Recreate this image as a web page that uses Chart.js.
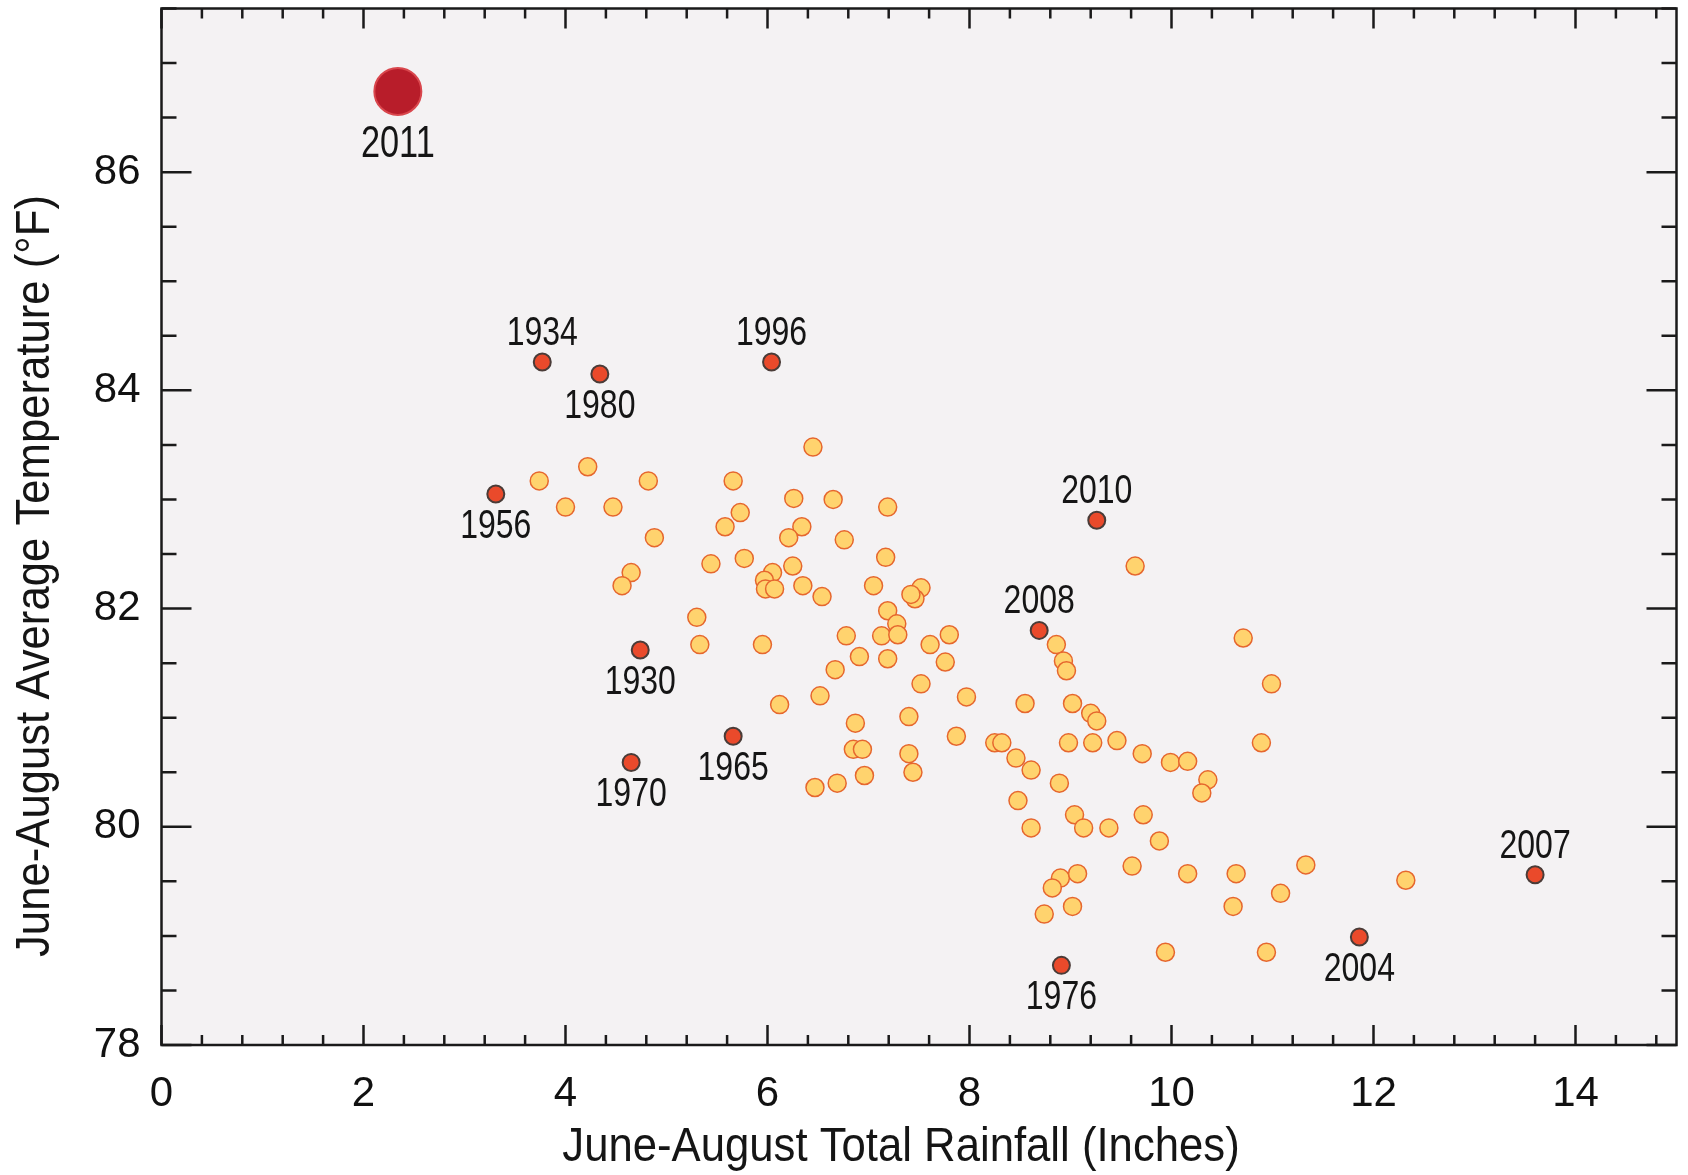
<!DOCTYPE html>
<html>
<head>
<meta charset="utf-8">
<script src="https://cdn.jsdelivr.net/npm/chart.js@4.4.1/dist/chart.umd.min.js"></script>
<style>
  html, body { margin: 0; padding: 0; background: #ffffff; }
  #wrap { width: 1688px; height: 1175px; }
</style>
</head>
<body>
<div id="wrap"><canvas id="mycanvas" width="1688" height="1175"></canvas></div>
<script>
// June-August rainfall (inches) and average temperature (F), all other years
var rainfall = [3.74, 4.22, 4.00, 4.47, 4.82, 4.88, 4.65, 4.56, 5.66, 6.45,
  6.26, 6.65, 7.19, 5.73, 5.58, 6.34, 6.21, 6.76, 7.17, 5.44,
  5.77, 6.25, 6.05, 5.97, 5.98, 6.07, 6.35, 6.54, 7.05, 7.19,
  7.28, 7.13, 7.29, 6.78, 6.91, 7.19, 6.67, 5.30, 5.33, 5.95,
  6.12, 6.52, 6.87, 6.85, 6.94, 6.96, 6.47, 6.69, 9.64, 7.52,
  7.46, 7.42, 7.61, 7.80, 7.76, 7.52, 7.97, 7.40, 7.40, 7.44,
  7.87, 8.86, 8.93, 8.96, 10.71, 10.99, 8.55, 9.02, 9.20, 9.26,
  8.25, 8.32, 8.98, 9.22, 9.46, 9.71, 9.99, 10.16, 10.89, 8.46,
  8.61, 8.89, 10.36, 10.30, 8.48, 8.61, 9.04, 9.13, 9.38, 9.72,
  9.88, 9.61, 10.16, 10.64, 11.33, 11.08, 10.61, 8.90, 8.82, 9.07,
  9.02, 8.74, 9.94, 10.94, 12.32];
var temperature = [83.17, 83.30, 82.93, 82.93, 83.17, 82.65, 82.33, 82.21, 83.17, 83.48,
  83.01, 83.00, 82.93, 82.88, 82.75, 82.75, 82.65, 82.63, 82.47, 82.41,
  82.46, 82.39, 82.33, 82.26, 82.18, 82.18, 82.21, 82.11, 82.21, 81.98,
  81.86, 81.75, 81.76, 81.75, 81.56, 81.54, 81.44, 81.92, 81.67, 81.67,
  81.12, 81.20, 80.95, 80.71, 80.71, 80.47, 80.36, 80.40, 82.39, 82.19,
  82.09, 82.13, 81.67, 81.76, 81.51, 81.31, 81.19, 81.01, 80.67, 80.50,
  80.83, 81.67, 81.52, 81.43, 81.73, 81.31, 81.13, 81.13, 81.04, 80.97,
  80.77, 80.77, 80.77, 80.77, 80.79, 80.67, 80.59, 80.60, 80.77, 80.63,
  80.52, 80.40, 80.43, 80.31, 80.24, 79.99, 80.11, 79.99, 79.99, 80.11,
  79.87, 79.64, 79.57, 79.57, 79.65, 79.39, 79.27, 79.53, 79.44, 79.57,
  79.27, 79.20, 78.85, 78.85, 79.51];

// labelled years
var markYears = ['1934', '1980', '1996', '1956', '2010', '2008', '1930', '1965', '1970', '2007', '2004', '1976'];
var markRain  = [3.77, 4.34, 6.04, 3.31, 9.26, 8.69, 4.74, 5.66, 4.65, 13.60, 11.86, 8.91];
var markTemp  = [84.26, 84.15, 84.26, 83.05, 82.81, 81.80, 81.62, 80.83, 80.59, 79.56, 78.99, 78.73];

// the record year
var hotYear = ['2011'];
var hotRain = [2.34];
var hotTemp = [86.74];

var xTickValues = [0, 2, 4, 6, 8, 10, 12, 14];
var yTickValues = [78, 80, 82, 84, 86];

var labelAbove = { '1934': true, '1996': true, '2010': true, '2008': true, '2007': true };

function toPoints(xs, ys) {
  var out = [];
  for (var i in xs) {
    out.push({ x: xs[i], y: ys[i] });
  }
  return out;
}

var tickFont = '"Liberation Sans", Arial, sans-serif';

// condensed look: draw Liberation Sans squeezed horizontally
function narrowText(ctx, text, x, y, size, squeeze) {
  ctx.save();
  ctx.translate(x, y);
  ctx.scale(squeeze, 1);
  ctx.font = size + 'px ' + tickFont;
  ctx.fillText(text, 0, 0);
  ctx.restore();
}

var framePlugin = {
  id: 'frame',
  beforeDraw: function(chart) {
    var a = chart.chartArea, ctx = chart.ctx;
    ctx.save();
    ctx.fillStyle = '#f4f2f3';
    ctx.fillRect(a.left, a.top, a.right - a.left, a.bottom - a.top);
    ctx.restore();
  },
  afterDatasetsDraw: function(chart) {
    var a = chart.chartArea, ctx = chart.ctx;
    var xs = chart.scales.x, ys = chart.scales.y;
    ctx.save();
    ctx.strokeStyle = '#1a1a1a';
    ctx.lineWidth = 2.5;
    ctx.strokeRect(a.left, a.top, a.right - a.left, a.bottom - a.top);

    // x ticks, every 0.4 with majors every 2
    for (var k = 0; k <= 37; k++) {
      var v = k * 0.4;
      if (v > xs.max) break;
      var px = xs.getPixelForValue(v);
      var len = (k % 5 === 0) ? 20 : 10;
      ctx.beginPath();
      ctx.moveTo(px, a.bottom); ctx.lineTo(px, a.bottom - len);
      ctx.moveTo(px, a.top); ctx.lineTo(px, a.top + len);
      ctx.stroke();
    }
    // y ticks, every 0.5 with majors every 2
    for (var j = 0; j <= 19; j++) {
      var t = 78 + j * 0.5;
      if (t > ys.max) break;
      var py = ys.getPixelForValue(t);
      var ylen = (j % 4 === 0) ? 30 : 15;
      ctx.beginPath();
      ctx.moveTo(a.left, py); ctx.lineTo(a.left + ylen, py);
      ctx.moveTo(a.right, py); ctx.lineTo(a.right - ylen, py);
      ctx.stroke();
    }

    // year labels
    ctx.fillStyle = '#151515';
    ctx.textAlign = 'center';
    ctx.textBaseline = 'middle';
    var meta = chart.getDatasetMeta(1);
    for (var i = 0; i < markYears.length; i++) {
      var el = meta.data[i];
      var dy = labelAbove[markYears[i]] ? -28 : 33;
      narrowText(ctx, markYears[i], el.x, el.y + dy, 40, 0.8);
    }
    var hot = chart.getDatasetMeta(2).data[0];
    narrowText(ctx, hotYear[0], hot.x, hot.y + 53, 44, 0.78);

    // axis titles
    narrowText(ctx, 'June-August Total Rainfall (Inches)', 901, 1148, 48, 0.91);
    ctx.translate(36, 576);
    ctx.rotate(-Math.PI / 2);
    narrowText(ctx, 'June-August Average Temperature (°F)', 0, 0, 48, 0.91);
    ctx.restore();
  }
};

var chartdata = {
  datasets: [
    {
      label: 'Other years',
      data: toPoints(rainfall, temperature),
      backgroundColor: '#ffd36e',
      borderColor: '#e6672e',
      borderWidth: 1.5,
      pointRadius: 9
    },
    {
      label: 'Marked years',
      data: toPoints(markRain, markTemp),
      backgroundColor: '#ea4a2b',
      borderColor: '#4a3c38',
      borderWidth: 2,
      pointRadius: 8.5
    },
    {
      label: '2011',
      data: toPoints(hotRain, hotTemp),
      backgroundColor: '#b81d2a',
      borderColor: '#d9474d',
      borderWidth: 2,
      pointRadius: 23.5
    }
  ]
};

var ctx = document.getElementById('mycanvas');
var scatter = new Chart(ctx, {
  type: 'scatter',
  data: chartdata,
  plugins: [framePlugin],
  options: {
    responsive: false,
    animation: false,
    devicePixelRatio: 1,
    layout: { autoPadding: false, padding: { top: 8.5, right: 11.5, left: 0, bottom: 0 } },
    plugins: { legend: { display: false }, tooltip: { enabled: false } },
    scales: {
      x: {
        type: 'linear',
        min: 0, max: 15,
        grid: { display: false, drawTicks: false },
        border: { display: false },
        afterBuildTicks: function(s) { s.ticks = xTickValues.map(function(v) { return { value: v }; }); },
        afterFit: function(s) { s.height = 130; s.paddingLeft = 0; s.paddingRight = 0; },
        ticks: { color: '#111', padding: 24, maxRotation: 0, font: { family: tickFont, size: 42 } }
      },
      y: {
        type: 'linear',
        min: 78, max: 87.5,
        grid: { display: false, drawTicks: false },
        border: { display: false },
        afterBuildTicks: function(s) { s.ticks = yTickValues.map(function(v) { return { value: v }; }); },
        afterFit: function(s) { s.width = 161.5; s.paddingTop = 0; s.paddingBottom = 0; },
        ticks: { color: '#111', padding: 21, font: { family: tickFont, size: 42 } }
      }
    }
  }
});
</script>
</body>
</html>
